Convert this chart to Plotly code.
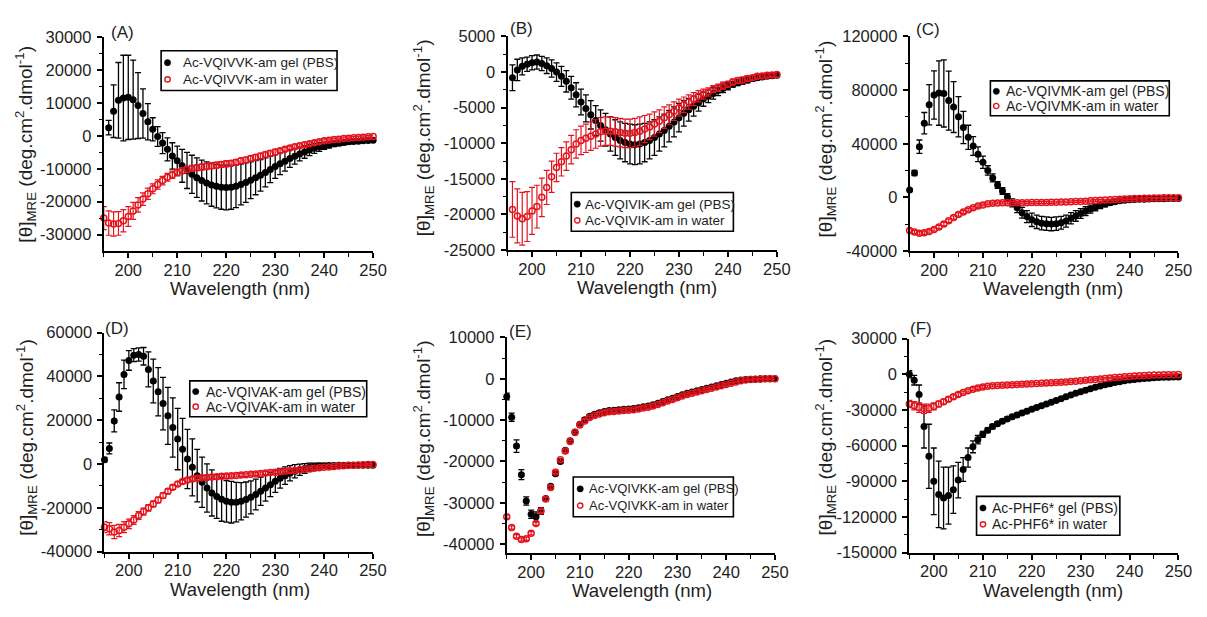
import plotly.graph_objects as go

# ---------------------------------------------------------------------------
# CD spectra (mean residue ellipticity) of six peptides, gel in PBS vs. water
# ---------------------------------------------------------------------------
WAVELENGTH = list(range(195, 251))          # nm, 1 nm step
X_TICKS = [200, 210, 220, 230, 240, 250]

# ---- (A) Ac-VQIVVK-am ------------------------------------------------------
A_NAMES = ["Ac-VQIVVK-am gel (PBS)", "Ac-VQIVVK-am in water"]
A_YTICKS = [30000, 20000, 10000, 0, -10000, -20000, -30000]
A_GEL = [None, 2500, 7500, 10800, 11500, 11700, 11000, 9200, 6800, 4300,
         2000, -200, -2200, -4100, -6100, -7600, -9100, -10500, -11700, -12700,
         -13600, -14300, -14900, -15300, -15600, -15700, -15600, -15300, -14800, -14200,
         -13500, -12700, -12000, -11100, -10200, -9300, -8500, -7700, -6900, -6200,
         -5500, -4900, -4300, -3800, -3400, -3000, -2700, -2400, -2200, -2000,
         -1800, -1700, -1600, -1500, -1400, -1300]
A_GEL_ERR = [0, 2200, 8000, 11500, 13000, 12800, 12000, 10000, 7500, 5500,
             3500, 3000, 3200, 3500, 4000, 4500, 5000, 5500, 5800, 6000,
             6200, 6400, 6500, 6600, 6700, 6800, 6700, 6500, 6200, 6000,
             5600, 5200, 4800, 4400, 4000, 3600, 3300, 3000, 2700, 2400,
             2100, 1900, 1700, 1500, 1300, 1100, 1000, 900, 800, 700,
             600, 600, 500, 500, 500, 400]
A_WATER = [-25000, -26500, -26800, -26600, -25800, -24500, -22800, -21000, -19200, -17600,
           -16100, -14800, -13600, -12600, -11800, -11100, -10600, -10200, -9900, -9700,
           -9500, -9300, -9100, -8900, -8700, -8500, -8300, -8000, -7600, -7300,
           -6900, -6500, -6100, -5700, -5300, -4900, -4500, -4100, -3700, -3300,
           -3000, -2700, -2400, -2100, -1800, -1500, -1300, -1100, -1000, -800,
           -700, -600, -500, -400, -300, -200]
A_WATER_ERR = [3500, 3700, 3700, 3600, 3400, 3000, 2600, 2200, 1900, 1700,
               1500, 1400, 1300, 1200, 1100, 1000, 900, 900, 900, 900,
               900, 900, 900, 900, 900, 900, 800, 800, 800, 800,
               800, 800, 800, 800, 800, 800, 600, 600, 600, 600,
               600, 600, 600, 600, 600, 600, 400, 400, 400, 400,
               400, 400, 400, 400, 400, 400]

# ---- (B) Ac-VQIVIK-am ------------------------------------------------------
B_NAMES = ["Ac-VQIVIK-am gel (PBS)", "Ac-VQIVIK-am in water"]
B_YTICKS = [5000, 0, -5000, -10000, -15000, -20000, -25000]
B_GEL = [None, -800, 300, 800, 1100, 1300, 1400, 1200, 900, 500,
         0, -600, -1300, -2200, -3200, -4200, -5100, -6000, -6800, -7500,
         -8100, -8700, -9200, -9600, -9900, -10100, -10200, -10100, -9900, -9600,
         -9200, -8700, -8200, -7600, -7000, -6400, -5800, -5300, -4800, -4300,
         -3800, -3400, -3000, -2600, -2300, -2000, -1700, -1500, -1300, -1100,
         -900, -800, -700, -600, -500, -450]
B_GEL_ERR = [0, 1800, 1500, 1200, 1000, 1000, 1000, 1000, 1100, 1200,
             1300, 1400, 1500, 1600, 1700, 1800, 1900, 2000, 2100, 2200,
             2300, 2400, 2500, 2600, 2700, 2800, 2800, 2800, 2700, 2600,
             2500, 2400, 2300, 2200, 2100, 2000, 1800, 1600, 1400, 1200,
             1000, 900, 800, 700, 600, 500, 400, 400, 400, 400,
             400, 300, 300, 300, 300, 300]
B_WATER = [None, -19300, -20200, -20600, -20300, -19500, -18900, -17600, -16200, -14700,
           -13400, -12600, -11800, -10900, -10100, -9600, -9300, -9000, -8700, -8400,
           -8300, -8300, -8400, -8500, -8600, -8600, -8500, -8300, -8000, -7700,
           -7300, -6900, -6400, -6000, -5500, -5000, -4600, -4200, -3800, -3400,
           -3100, -2800, -2400, -2200, -1900, -1700, -1400, -1200, -1100, -900,
           -800, -600, -550, -450, -400, -350]
B_WATER_ERR = [0, 3900, 3800, 3700, 3500, 3300, 3000, 2700, 2400, 2200,
               2000, 2000, 2000, 2000, 2000, 2000, 2000, 2000, 2000, 2000,
               2000, 2000, 2000, 2000, 2000, 2000, 2000, 2000, 1900, 1800,
               1700, 1600, 1500, 1400, 1300, 1200, 1100, 1000, 900, 800,
               700, 600, 500, 500, 500, 400, 400, 400, 400, 400,
               300, 300, 300, 300, 300, 300]

# ---- (C) Ac-VQIVMK-am ------------------------------------------------------
C_NAMES = ["Ac-VQIVMK-am gel (PBS)", "Ac-VQIVMK-am in water"]
C_YTICKS = [120000, 80000, 40000, 0, -40000]
C_GEL = [5600, 18200, 37800, 55300, 69100, 76400, 77800, 77500, 72200, 67400,
         60100, 52100, 44800, 38300, 32200, 26200, 20100, 14500, 9200, 4800,
         200, -4100, -7800, -11400, -14300, -16700, -18200, -19200, -19600, -19900,
         -19600, -18900, -17700, -15500, -13800, -12000, -10300, -8700, -7300, -6000,
         -4900, -4000, -3200, -2600, -2100, -1700, -1500, -1400, -1300, -1200,
         -1100, -1000, -1000, -900, -900, -800]
C_GEL_ERR = [1000, 2000, 5000, 8000, 15000, 18000, 24000, 25000, 22000, 19000,
             15000, 12000, 9000, 7000, 5500, 4500, 3500, 3000, 2500, 2500,
             2500, 3000, 3500, 4000, 4500, 5000, 5000, 5000, 5000, 5000,
             5000, 4800, 4500, 4200, 4000, 3600, 3300, 3000, 2700, 2400,
             2100, 1800, 1500, 1300, 1100, 900, 800, 800, 700, 700,
             600, 600, 600, 500, 500, 500]
C_WATER = [-24700, -25900, -26700, -26400, -25500, -24000, -22100, -19900, -17500, -15000,
           -12800, -10900, -9200, -7800, -6500, -5600, -4800, -4400, -4100, -4000,
           -4000, -4000, -4000, -4000, -4000, -3900, -3900, -3800, -3800, -3700,
           -3600, -3500, -3400, -3300, -3100, -3000, -2800, -2600, -2400, -2200,
           -2000, -1800, -1600, -1400, -1200, -1000, -900, -800, -700, -600,
           -500, -400, -300, -300, -200, -200]
C_WATER_ERR = [1200, 1200, 1200, 1200, 1200, 1200, 1200, 1200, 1200, 1200,
               1200, 1000, 1000, 900, 900, 800, 800, 800, 800, 800,
               800, 800, 800, 800, 800, 800, 800, 800, 800, 800,
               700, 700, 700, 700, 700, 700, 700, 700, 700, 700,
               600, 600, 600, 600, 600, 600, 600, 600, 600, 600,
               500, 500, 500, 500, 500, 500]

# ---- (D) Ac-VQIVAK-am ------------------------------------------------------
D_NAMES = ["Ac-VQIVAK-am gel (PBS)", "Ac-VQIVAK-am in water"]
D_YTICKS = [60000, 40000, 20000, 0, -20000, -40000]
D_GEL = [2000, 7100, 19700, 30600, 40900, 47300, 49700, 50000, 49200, 43200,
         37900, 33000, 27600, 22000, 16700, 11400, 6800, 2300, -1500, -5300,
         -8300, -10900, -13200, -14800, -16100, -17000, -17400, -17400, -17000, -16200,
         -15200, -13900, -12400, -10900, -9400, -7900, -6500, -5300, -4200, -3300,
         -2600, -2000, -1500, -1200, -900, -800, -700, -700, -600, -600,
         -600, -500, -500, -500, -500, -500]
D_GEL_ERR = [1000, 2500, 5000, 6500, 6500, 4500, 3000, 3000, 4000, 8000,
             10000, 11000, 12000, 13000, 13500, 14000, 14000, 13500, 13000, 12000,
             11500, 11000, 10500, 10000, 10000, 9500, 9500, 9000, 8500, 8000,
             7500, 7000, 6500, 6000, 5500, 5000, 4500, 4000, 3500, 3000,
             2600, 2200, 1900, 1600, 1300, 1100, 1000, 900, 800, 700,
             600, 600, 500, 500, 500, 500]
D_WATER = [-28800, -29500, -31000, -30300, -28800, -27300, -25500, -23500, -21700, -20000,
           -18200, -16400, -14400, -12400, -10600, -9100, -8000, -7300, -6800, -6500,
           -6200, -6100, -5900, -5800, -5600, -5500, -5300, -5200, -5000, -4900,
           -4700, -4500, -4300, -4100, -3900, -3700, -3500, -3300, -3100, -2900,
           -2600, -2400, -2100, -1900, -1700, -1500, -1300, -1100, -900, -800,
           -600, -500, -400, -300, -200, -200]
D_WATER_ERR = [2500, 2800, 3000, 2800, 2500, 2200, 2000, 1800, 1600, 1500,
               1400, 1300, 1200, 1100, 1000, 900, 900, 900, 900, 900,
               900, 900, 900, 900, 900, 900, 700, 700, 700, 700,
               700, 700, 700, 700, 700, 700, 700, 700, 700, 700,
               500, 500, 500, 500, 500, 500, 500, 500, 500, 500,
               400, 400, 400, 400, 400, 400]

# ---- (E) Ac-VQIVKK-am ------------------------------------------------------
E_NAMES = ["Ac-VQIVKK-am gel (PBS)", "Ac-VQIVKK-am in water"]
E_YTICKS = [10000, 0, -10000, -20000, -30000, -40000]
E_GEL = [-4300, -9300, -16300, -23200, -29600, -32800, -33400, -32000, -29000, -26000,
         -23000, -20000, -17300, -15000, -12900, -11000, -9900, -9100, -8600, -8200,
         -7900, -7700, -7600, -7500, -7400, -7300, -7200, -7000, -6800, -6600,
         -6300, -5900, -5500, -5100, -4700, -4300, -3900, -3500, -3200, -2900,
         -2600, -2300, -2000, -1700, -1400, -1100, -800, -500, -300, -200,
         -100, -100, 0, 0, 0, 0]
E_GEL_ERR = [800, 1000, 1500, 1200, 1000, 1000, 1200, 800, 500, 400,
             400, 400, 400, 400, 400, 400, 400, 400, 400, 400,
             300, 300, 300, 300, 300, 300, 300, 300, 300, 300,
             300, 300, 300, 300, 300, 300, 300, 300, 300, 300,
             200, 200, 200, 200, 200, 200, 200, 200, 200, 200,
             200, 200, 200, 200, 200, 200]
E_WATER = [-33400, -36000, -38100, -38900, -38700, -37400, -35000, -32000, -29100, -26300,
           -22600, -19600, -17500, -15200, -13000, -11200, -10200, -9400, -8900, -8500,
           -8200, -8000, -7900, -7800, -7700, -7600, -7500, -7300, -7100, -6900,
           -6600, -6200, -5800, -5400, -5000, -4600, -4200, -3800, -3500, -3200,
           -2900, -2600, -2300, -2000, -1700, -1400, -1100, -800, -500, -300,
           -200, -100, -100, 0, 0, 0]
E_WATER_ERR = [400, 400, 400, 400, 400, 400, 400, 400, 400, 400,
               300, 300, 300, 300, 300, 300, 300, 300, 300, 300,
               300, 300, 300, 300, 300, 300, 300, 300, 300, 300,
               300, 300, 300, 300, 300, 300, 300, 300, 300, 300,
               200, 200, 200, 200, 200, 200, 200, 200, 200, 200,
               200, 200, 200, 200, 200, 200]

# ---- (F) Ac-PHF6* ----------------------------------------------------------
F_NAMES = ["Ac-PHF6* gel (PBS)", "Ac-PHF6* in water"]
F_YTICKS = [30000, 0, -30000, -60000, -90000, -120000, -150000]
F_GEL = [0, -5000, -17000, -44000, -69000, -90000, -101000, -104000, -102000, -97000,
         -89000, -80000, -70000, -61000, -55000, -50500, -47000, -44000, -41500, -39500,
         -37500, -35800, -34200, -32600, -31000, -29500, -28000, -26500, -25000, -23500,
         -22000, -20500, -19000, -17500, -16000, -14700, -13400, -12100, -10900, -9800,
         -8800, -7900, -7000, -6200, -5500, -4900, -4400, -4000, -3600, -3300,
         -3000, -2800, -2600, -2400, -2300, -2200]
F_GEL_ERR = [3000, 4000, 8000, 18000, 27000, 28000, 28000, 26000, 24000, 20000,
             15000, 10000, 8000, 5000, 3500, 2500, 2000, 1800, 1600, 1500,
             1400, 1400, 1300, 1300, 1200, 1200, 1100, 1100, 1000, 1000,
             1000, 900, 900, 900, 800, 800, 800, 700, 700, 700,
             600, 600, 600, 600, 600, 600, 600, 600, 600, 600,
             500, 500, 500, 500, 500, 500]
F_WATER = [-25000, -26500, -28000, -29000, -28500, -27000, -25000, -23000, -21000, -19000,
           -17000, -15300, -13800, -12500, -11500, -10700, -10100, -9700, -9400, -9200,
           -9000, -8800, -8600, -8400, -8200, -8000, -7800, -7600, -7400, -7200,
           -7000, -6700, -6400, -6100, -5800, -5500, -5100, -4700, -4300, -3900,
           -3500, -3100, -2700, -2400, -2100, -1800, -1500, -1300, -1100, -900,
           -700, -600, -500, -400, -300, -200]
F_WATER_ERR = [3000, 3500, 4000, 4000, 3500, 3000, 2500, 2000, 1800, 1600,
               1500, 1200, 1200, 1200, 1200, 1200, 1000, 1000, 1000, 1000,
               1000, 1000, 1000, 1000, 1000, 1000, 900, 900, 900, 900,
               900, 900, 900, 900, 900, 900, 800, 800, 800, 800,
               700, 700, 700, 700, 700, 700, 600, 600, 600, 600,
               500, 500, 500, 500, 500, 500]

PANEL_DATA = [
    ("(A)", A_NAMES, A_GEL, A_GEL_ERR, A_WATER, A_WATER_ERR, A_YTICKS),
    ("(B)", B_NAMES, B_GEL, B_GEL_ERR, B_WATER, B_WATER_ERR, B_YTICKS),
    ("(C)", C_NAMES, C_GEL, C_GEL_ERR, C_WATER, C_WATER_ERR, C_YTICKS),
    ("(D)", D_NAMES, D_GEL, D_GEL_ERR, D_WATER, D_WATER_ERR, D_YTICKS),
    ("(E)", E_NAMES, E_GEL, E_GEL_ERR, E_WATER, E_WATER_ERR, E_YTICKS),
    ("(F)", F_NAMES, F_GEL, F_GEL_ERR, F_WATER, F_WATER_ERR, F_YTICKS),
]

# ---------------------------------------------------------------------------
# Page geometry (pixels on a 1207 x 617 canvas)
#   box     : plot area left, right, top, bottom
#   key     : legend frame left, right, top, bottom
#   key_mk / key_tx : x of the legend glyphs / legend text; key_fs: font size
# ---------------------------------------------------------------------------
W, H = 1207, 617
PANEL_GEOM = [
    dict(box=(105, 377.5, 29, 249.3), yrange=[-35000, 30000],
         key=(163, 341, 43, 84), key_mk=169.5, key_tx=183, key_fs=13.5,
         label=(124, 24), ytitle=(26, 139), xtitle=(243, 287.5)),
    dict(box=(513.5, 786, 28.3, 248.3), yrange=[-25000, 5000],
         key=(578, 742, 189, 229), key_mk=584, key_tx=590, key_fs=13.5,
         label=(528, 20), ytitle=(428, 133), xtitle=(655, 287)),
    dict(box=(920.3, 1192.3, 28.3, 249.3), yrange=[-40000, 120000],
         key=(1002, 1183, 74, 110), key_mk=1008, key_tx=1016, key_fs=14,
         label=(939, 21), ytitle=(835, 134), xtitle=(1065, 288)),
    dict(box=(105.7, 377.3, 333.3, 559), yrange=[-40000, 60000],
         key=(192, 371, 383, 420), key_mk=198, key_tx=206, key_fs=14,
         label=(118, 329), ytitle=(26, 441), xtitle=(243, 598)),
    dict(box=(512.7, 784, 338.3, 560.5), yrange=[-42200, 10000],
         key=(580, 742, 482, 523), key_mk=587, key_tx=594, key_fs=13,
         label=(527, 332), ytitle=(428, 443), xtitle=(650, 599)),
    dict(box=(920, 1192.3, 339.5, 560), yrange=[-150000, 30000],
         key=(988, 1133, 502, 542), key_mk=994.5, key_tx=1002, key_fs=14,
         label=(932, 329), ytitle=(835, 441), xtitle=(1065, 599)),
]

FONT = "Liberation Sans, Arial, sans-serif"
TEXT = "#1e1e1e"
RED = "#e3141e"
YTITLE = "[\u03b8]<sub>MRE</sub> (deg.cm<sup>2</sup>.dmol<sup>-1</sup>)"


def fx(px):
    return px / W


def fy(px):
    return 1 - px / H


def midpoints(vals):
    s = sorted(vals)
    return [(a + b) / 2 for a, b in zip(s[:-1], s[1:])]


def circle(cx, cy, r, fill, line_color, line_width):
    return dict(type="circle", xref="paper", yref="paper",
                x0=fx(cx - r), x1=fx(cx + r), y0=fy(cy + r), y1=fy(cy - r),
                fillcolor=fill, line=dict(color=line_color, width=line_width),
                layer="above")


fig = go.Figure()
layout = dict(
    width=W, height=H,
    margin=dict(l=0, r=0, t=0, b=0),
    paper_bgcolor="white", plot_bgcolor="white",
    showlegend=False,
    font=dict(family=FONT, color=TEXT),
    annotations=[], shapes=[],
)

for i, ((label, names, gel, gel_err, water, water_err, yticks), geom) in enumerate(
        zip(PANEL_DATA, PANEL_GEOM), start=1):
    sfx = "" if i == 1 else str(i)
    xref, yref = "x" + sfx, "y" + sfx
    left, right, top, bottom = geom["box"]

    fig.add_trace(go.Scatter(
        x=WAVELENGTH, y=gel, mode="markers", name=names[0],
        marker=dict(symbol="circle", size=7, color="black"),
        error_y=dict(type="data", array=gel_err, visible=True,
                     color="black", thickness=1.3, width=3),
        xaxis=xref, yaxis=yref, cliponaxis=False))
    fig.add_trace(go.Scatter(
        x=WAVELENGTH, y=water, mode="markers", name=names[1],
        marker=dict(symbol="circle-open", size=6, color=RED,
                    line=dict(width=1.5, color=RED)),
        error_y=dict(type="data", array=water_err, visible=True,
                     color=RED, thickness=1.2, width=3),
        xaxis=xref, yaxis=yref, cliponaxis=False))

    common = dict(
        showline=True, linewidth=2, linecolor="black", mirror=False,
        showgrid=False, zeroline=False,
        ticks="outside", ticklen=5, tickwidth=1.5, tickcolor="black",
        tickfont=dict(size=16.5, family=FONT, color=TEXT),
    )
    layout["xaxis" + sfx] = dict(
        common, domain=[fx(left), fx(right)], range=[195, 250],
        anchor=yref, tickmode="array", tickvals=X_TICKS,
        ticktext=[str(v) for v in X_TICKS],
        ticklabelstandoff=-2,
        minor=dict(tickmode="array", tickvals=[v - 5 for v in X_TICKS],
                   ticks="outside", ticklen=4, tickwidth=1.3, tickcolor="black"),
    )
    layout["yaxis" + sfx] = dict(
        common, domain=[fy(bottom), fy(top)], range=geom["yrange"],
        anchor=xref, tickmode="array", tickvals=yticks,
        ticktext=[str(v) for v in yticks],
        ticklabelstandoff=2,
        minor=dict(tickmode="array", tickvals=midpoints(yticks),
                   ticks="outside", ticklen=3, tickwidth=1.2, tickcolor="black"),
    )

    # legend frame with one filled and one open circle glyph
    kx0, kx1, ky0, ky1 = geom["key"]
    rows = [ky0 + 0.3 * (ky1 - ky0), ky0 + 0.72 * (ky1 - ky0)]
    layout["shapes"].append(dict(
        type="rect", xref="paper", yref="paper",
        x0=fx(kx0), x1=fx(kx1), y0=fy(ky1), y1=fy(ky0),
        fillcolor="white", line=dict(color="black", width=1.6), layer="above"))
    layout["shapes"].append(circle(geom["key_mk"], rows[0], 3.2, "black", "black", 0.5))
    layout["shapes"].append(circle(geom["key_mk"], rows[1], 2.7, "white", RED, 1.4))
    for name, ry in zip(names, rows):
        layout["annotations"].append(dict(
            text=name, x=fx(geom["key_tx"]), y=fy(ry), xref="paper", yref="paper",
            showarrow=False, xanchor="left", yanchor="middle",
            font=dict(size=geom["key_fs"], family=FONT, color=TEXT)))

    ax, ay = geom["label"]
    layout["annotations"].append(dict(
        text=label, x=fx(ax), y=fy(ay), xref="paper", yref="paper",
        showarrow=False, xanchor="center", yanchor="middle",
        font=dict(size=17, family=FONT, color=TEXT)))
    tx, ty = geom["ytitle"]
    layout["annotations"].append(dict(
        text=YTITLE, x=fx(tx), y=fy(ty), xref="paper", yref="paper",
        showarrow=False, textangle=-90, xanchor="center", yanchor="middle",
        font=dict(size=19, family=FONT, color=TEXT)))
    wx, wy = geom["xtitle"]
    layout["annotations"].append(dict(
        text="Wavelength (nm)", x=fx(wx), y=fy(wy), xref="paper", yref="paper",
        showarrow=False, xanchor="center", yanchor="middle",
        font=dict(size=18.5, family=FONT, color=TEXT)))

fig.update_layout(**layout)
fig.write_html("out.html")
